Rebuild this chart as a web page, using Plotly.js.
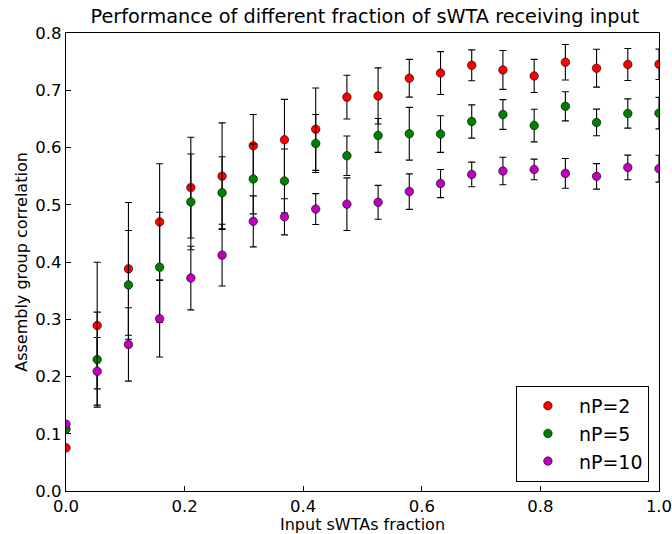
<!DOCTYPE html>
<html>
<head>
<meta charset="utf-8">
<script src="https://cdn.plot.ly/plotly-3.0.1.min.js"></script>
<style>body{margin:0;padding:0;background:#fff}#chart{width:672px;height:534px}</style>
</head>
<body>
<div id="chart"></div>
<script>
// Input sWTA fraction (i/19, i = 0..19)
const fractions = [0.0, 0.0526, 0.1053, 0.1579, 0.2105, 0.2632, 0.3158, 0.3684, 0.4211, 0.4737,
                   0.5263, 0.5789, 0.6316, 0.6842, 0.7368, 0.7895, 0.8421, 0.8947, 0.9474, 1.0];

const seriesNames = ["nP=2", "nP=5", "nP=10"];

const corrNP2 = [0.0755, 0.289, 0.388, 0.470, 0.530, 0.550, 0.603, 0.6135, 0.632, 0.688,
                 0.690, 0.721, 0.730, 0.7435, 0.7355, 0.725, 0.749, 0.7385, 0.745, 0.7454];
const errNP2  = [0.0, 0.1106, 0.116, 0.1017, 0.088, 0.093, 0.0546, 0.0705, 0.072, 0.0383,
                 0.049, 0.033, 0.0375, 0.027, 0.034, 0.029, 0.031, 0.033, 0.028, 0.0265];

const corrNP5 = [0.108, 0.2295, 0.360, 0.391, 0.505, 0.521, 0.545, 0.5415, 0.607, 0.5856,
                 0.621, 0.624, 0.6234, 0.6454, 0.6576, 0.6384, 0.672, 0.6437, 0.6594, 0.660];
const errNP5  = [0.0, 0.083, 0.095, 0.096, 0.0836, 0.0628, 0.061, 0.056, 0.0506, 0.0344,
                 0.0296, 0.046, 0.032, 0.029, 0.026, 0.0285, 0.0255, 0.0233, 0.0255, 0.0275];

const corrNP10 = [0.1168, 0.209, 0.256, 0.301, 0.372, 0.412, 0.471, 0.479, 0.4925, 0.501,
                  0.5043, 0.523, 0.537, 0.553, 0.559, 0.5617, 0.5548, 0.5496, 0.5652, 0.563];
const errNP10  = [0.0, 0.059, 0.064, 0.067, 0.0556, 0.054, 0.0445, 0.0316, 0.027, 0.046,
                  0.0296, 0.031, 0.0245, 0.0215, 0.024, 0.018, 0.026, 0.0223, 0.0215, 0.0235];

const colors = ["#ff0000", "#008000", "#bf00bf"];
const values = [corrNP2, corrNP5, corrNP10];
const errors = [errNP2, errNP5, errNP10];

const xTicks = [0.0, 0.2, 0.4, 0.6, 0.8, 1.0];
const xTickText = ["0.0", "0.2", "0.4", "0.6", "0.8", "1.0"];
const yTicks = [0.0, 0.1, 0.2, 0.3, 0.4, 0.5, 0.6, 0.7, 0.8];
const yTickText = ["0.0", "0.1", "0.2", "0.3", "0.4", "0.5", "0.6", "0.7", "0.8"];

const font = "DejaVu Sans, sans-serif";

const traces = seriesNames.map((name, k) => ({
  type: "scatter",
  mode: "markers",
  name: name,
  x: fractions,
  y: values[k],
  error_y: {type: "data", array: errors[k], visible: true, color: "#000000", thickness: 1.1, width: 3.5},
  marker: {color: colors[k], size: 8.5, line: {color: "#000000", width: 0.6}},
  cliponaxis: true
}));

const layout = {
  width: 672, height: 534,
  margin: {l: 66, r: 13, t: 33, b: 43},
  paper_bgcolor: "#ffffff", plot_bgcolor: "#ffffff",
  font: {family: font, color: "#000000", size: 16},
  title: {text: "Performance of different fraction of sWTA receiving input",
          font: {family: font, size: 19.3, color: "#000000"},
          x: 0.543, xanchor: "center", y: 0.969, yanchor: "middle"},
  xaxis: {
    range: [0, 1], tickvals: xTicks, ticktext: xTickText,
    showline: true, linecolor: "#000000", linewidth: 1.2, mirror: true,
    ticks: "inside", ticklen: 5, tickcolor: "#000000", tickwidth: 1,
    showgrid: false, zeroline: false, ticklabeloverflow: "allow",
    tickfont: {family: font, size: 16.5, color: "#000000"},
    title: {text: "Input sWTAs fraction", font: {family: font, size: 16, color: "#000000"}, standoff: 2}
  },
  yaxis: {
    range: [0, 0.8], tickvals: yTicks, ticktext: yTickText,
    showline: true, linecolor: "#000000", linewidth: 1.2, mirror: true,
    ticks: "inside", ticklen: 5, tickcolor: "#000000", tickwidth: 1,
    showgrid: false, zeroline: false, ticklabeloverflow: "allow",
    tickfont: {family: font, size: 16.5, color: "#000000"},
    title: {text: "Assembly group correlation", font: {family: font, size: 16, color: "#000000"}, standoff: 3}
  },
  legend: {
    x: 0.983, xanchor: "right", y: 0.02, yanchor: "bottom",
    bordercolor: "#000000", borderwidth: 1, bgcolor: "#ffffff",
    font: {family: font, size: 19, color: "#000000"},
    itemwidth: 52
  },
  showlegend: true
};

Plotly.newPlot("chart", traces, layout, {staticPlot: true, displayModeBar: false});
</script>
</body>
</html>
